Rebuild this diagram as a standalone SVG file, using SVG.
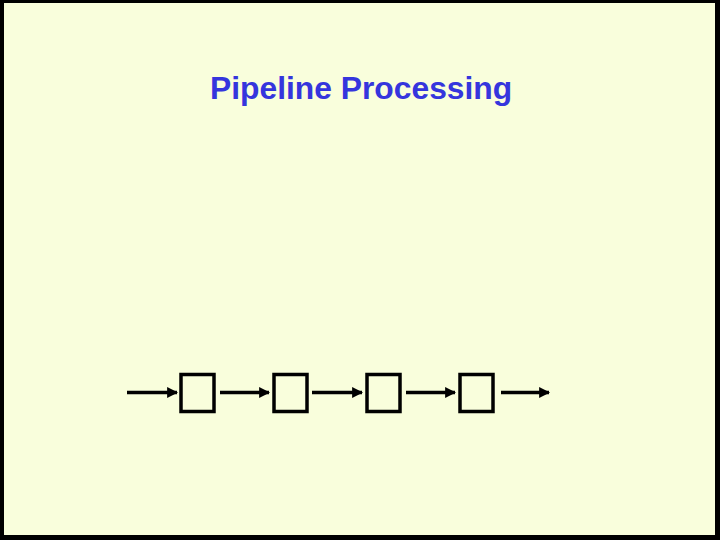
<svg xmlns="http://www.w3.org/2000/svg" width="720" height="540" viewBox="0 0 720 540">
<style>
.title{font-family:"Liberation Sans",Arial,sans-serif;font-weight:bold;font-size:31.8px;fill:#3535DD}
.box{fill:none;stroke:#000;stroke-width:3.5}
.conn{stroke:#000;stroke-width:3.5;fill:none}
</style>
<defs>
<marker id="ah" viewBox="0 0 10 10" refX="9" refY="5" markerUnits="userSpaceOnUse" markerWidth="11" markerHeight="11" orient="auto">
<path d="M0,0 L10,5 L0,10 z" fill="#000"/>
</marker>
</defs>
<rect x="0" y="0" width="720" height="540" fill="#000"/>
<rect x="4" y="3" width="711" height="532" fill="#F9FEDC"/>
<text class="title" x="210" y="98.5">Pipeline Processing</text>
<g id="connectors">
<line class="conn" x1="127" y1="392.5" x2="177" y2="392.5" marker-end="url(#ah)"/>
<line class="conn" x1="220" y1="392.5" x2="269" y2="392.5" marker-end="url(#ah)"/>
<line class="conn" x1="312" y1="392.5" x2="362" y2="392.5" marker-end="url(#ah)"/>
<line class="conn" x1="406" y1="392.5" x2="455" y2="392.5" marker-end="url(#ah)"/>
<line class="conn" x1="501" y1="392.5" x2="549" y2="392.5" marker-end="url(#ah)"/>
</g>
<g id="stage1"><rect class="box" x="181" y="374.5" width="33" height="37"/></g>
<g id="stage2"><rect class="box" x="274" y="374.5" width="33" height="37"/></g>
<g id="stage3"><rect class="box" x="367" y="374.5" width="33" height="37"/></g>
<g id="stage4"><rect class="box" x="460" y="374.5" width="33" height="37"/></g>
</svg>
